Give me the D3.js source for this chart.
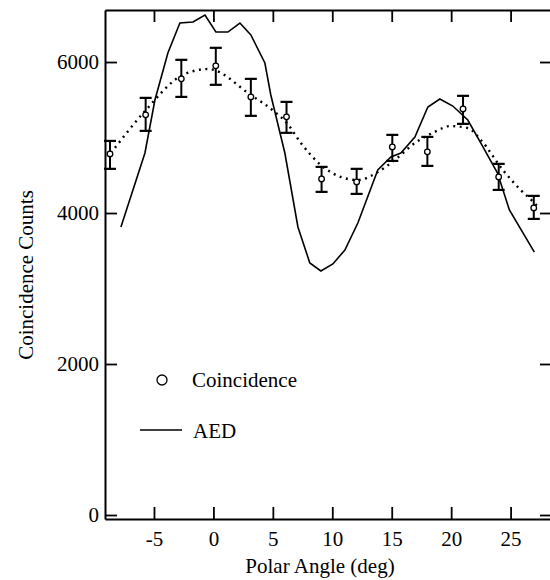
<!DOCTYPE html>
<html>
<head>
<meta charset="utf-8">
<script src="https://cdn.jsdelivr.net/npm/d3@7"></script>
<style>
  body { margin: 0; background: #fff; }
</style>
</head>
<body>
<svg width="550" height="580"></svg>
<script>
// measured points (Coincidence)
const coinAngle = [-8.7, -5.7, -2.7, 0.2, 3.15, 6.15, 9.1, 12.05, 15.05, 18.0, 21.0, 24.0, 26.95];
const coinCount = [4783, 5300, 5777, 5949, 5538, 5274, 4452, 4412, 4876, 4810, 5379, 4478, 4068];
const coinHigh  = [4955, 5525, 6029, 6188, 5777, 5472, 4611, 4585, 5035, 5008, 5552, 4651, 4227];
const coinLow   = [4585, 5088, 5538, 5698, 5287, 5062, 4280, 4253, 4690, 4624, 5181, 4306, 3922];

// AED calculation (solid line)
const aedAngle = [-7.78, -5.76, -4.92, -3.83, -2.82, -1.72, -0.71, 0.21, 1.22, 2.23, 3.15, 4.33, 4.83,
  6.01, 7.11, 8.11, 9.04, 10.05, 11.06, 12.15, 13.83, 14.93, 15.77, 16.95, 18.04, 19.05, 20.14,
  21.4, 22.5, 23.9, 24.9, 27.0];
const aedCount = [3815, 4795, 5497, 6119, 6516, 6530, 6623, 6397, 6397, 6516, 6358, 5987, 5563,
  4795, 3815, 3338, 3232, 3325, 3510, 3868, 4570, 4742, 4795, 5007, 5404, 5510, 5417,
  5232, 4927, 4530, 4040, 3483];

// dotted fit through the measured points
const fitAngle = [-8.62, -5.68, -2.73, -0.46, 3.15, 5.17, 6.18, 7.36, 9.04, 10.72, 12.15, 13.83,
  15.26, 16.95, 18.6, 19.9, 21.4, 22.5, 24.4, 25.85, 27.0, 27.3];
const fitCount = [4795, 5364, 5815, 5907, 5563, 5338, 5192, 4927, 4636, 4477, 4437, 4543,
  4702, 4927, 5073, 5152, 5126, 4967, 4560, 4305, 4132, 4080];

const xTicks = [-5, 0, 5, 10, 15, 20, 25];
const yTicks = [0, 2000, 4000, 6000];

const FONT = "'Times New Roman', 'Liberation Serif', serif";

const svg = d3.select("svg");
const plotLeft = 105, plotRight = 551, plotTop = 10, plotBottom = 519;

const x = d3.scaleLinear().domain([-9.12, 28.4]).range([plotLeft, plotRight]);
const y = d3.scaleLinear().domain([-53, 6689]).range([plotBottom, plotTop]);

const plain = d => String(d); // hyphen minus, no thousands comma

// axes (ticks point inward)
const styleAxis = g => {
  g.attr("font-family", FONT);
  g.select(".domain").attr("stroke-width", 2);
  g.selectAll(".tick line").attr("stroke-width", 1.8);
  g.selectAll(".tick text").attr("font-size", 21).attr("font-family", FONT);
};

svg.append("g")
  .attr("transform", `translate(0,${plotBottom})`)
  .call(d3.axisBottom(x).tickValues(xTicks).tickSize(-12).tickSizeOuter(0).tickPadding(12).tickFormat(plain))
  .call(styleAxis);

svg.append("g")
  .attr("transform", `translate(0,${plotTop})`)
  .call(d3.axisTop(x).tickValues(xTicks).tickSize(-12).tickSizeOuter(0).tickFormat(""))
  .call(styleAxis);

svg.append("g")
  .attr("transform", `translate(${plotLeft},0)`)
  .call(d3.axisLeft(y).tickValues(yTicks).tickSize(-12).tickSizeOuter(0).tickPadding(6).tickFormat(plain))
  .call(styleAxis);

svg.append("g")
  .attr("transform", `translate(${plotRight},0)`)
  .call(d3.axisRight(y).tickValues(yTicks).tickSize(-11).tickSizeOuter(0).tickFormat(""))
  .call(styleAxis);

// AED line
const aed = aedAngle.map((a, i) => [a, aedCount[i]]);
svg.append("path")
  .datum(aed)
  .attr("fill", "none")
  .attr("stroke", "#000")
  .attr("stroke-width", 1.6)
  .attr("d", d3.line().x(d => x(d[0])).y(d => y(d[1])));

// dotted fit
const fit = fitAngle.map((a, i) => [a, fitCount[i]]);
svg.append("path")
  .datum(fit)
  .attr("fill", "none")
  .attr("stroke", "#000")
  .attr("stroke-width", 2.4)
  .attr("stroke-dasharray", "2,4.5")
  .attr("d", d3.line().curve(d3.curveMonotoneX).x(d => x(d[0])).y(d => y(d[1])));

// error bars + points
const pts = coinAngle.map((a, i) => ({ a, c: coinCount[i], hi: coinHigh[i], lo: coinLow[i] }));
const eb = svg.append("g").attr("stroke", "#000");
eb.selectAll(".v").data(pts).enter().append("line")
  .attr("x1", d => x(d.a)).attr("x2", d => x(d.a))
  .attr("y1", d => y(d.hi)).attr("y2", d => y(d.lo))
  .attr("stroke-width", 2);
eb.selectAll(".ct").data(pts).enter().append("line")
  .attr("x1", d => x(d.a) - 6).attr("x2", d => x(d.a) + 6)
  .attr("y1", d => y(d.hi)).attr("y2", d => y(d.hi))
  .attr("stroke-width", 2.2);
eb.selectAll(".cb").data(pts).enter().append("line")
  .attr("x1", d => x(d.a) - 6).attr("x2", d => x(d.a) + 6)
  .attr("y1", d => y(d.lo)).attr("y2", d => y(d.lo))
  .attr("stroke-width", 2.2);

svg.append("g").selectAll("circle").data(pts).enter().append("circle")
  .attr("cx", d => x(d.a)).attr("cy", d => y(d.c)).attr("r", 2.8)
  .attr("fill", "#fff").attr("stroke", "#000").attr("stroke-width", 1.3);

// legend
svg.append("circle").attr("cx", 162).attr("cy", 380).attr("r", 5)
  .attr("fill", "#fff").attr("stroke", "#000").attr("stroke-width", 1.3);
svg.append("text").attr("x", 192).attr("y", 387)
  .attr("font-family", FONT).attr("font-size", 21).text("Coincidence");
svg.append("line").attr("x1", 140).attr("x2", 182).attr("y1", 430).attr("y2", 430)
  .attr("stroke", "#000").attr("stroke-width", 1.6);
svg.append("text").attr("x", 193).attr("y", 438)
  .attr("font-family", FONT).attr("font-size", 21).text("AED");

// axis titles
svg.append("text")
  .attr("x", 320).attr("y", 573)
  .attr("text-anchor", "middle").attr("font-family", FONT).attr("font-size", 21)
  .text("Polar Angle (deg)");

svg.append("text")
  .attr("transform", "translate(33,275) rotate(-90)")
  .attr("text-anchor", "middle").attr("font-family", FONT).attr("font-size", 21)
  .text("Coincidence Counts");
</script>
</body>
</html>
